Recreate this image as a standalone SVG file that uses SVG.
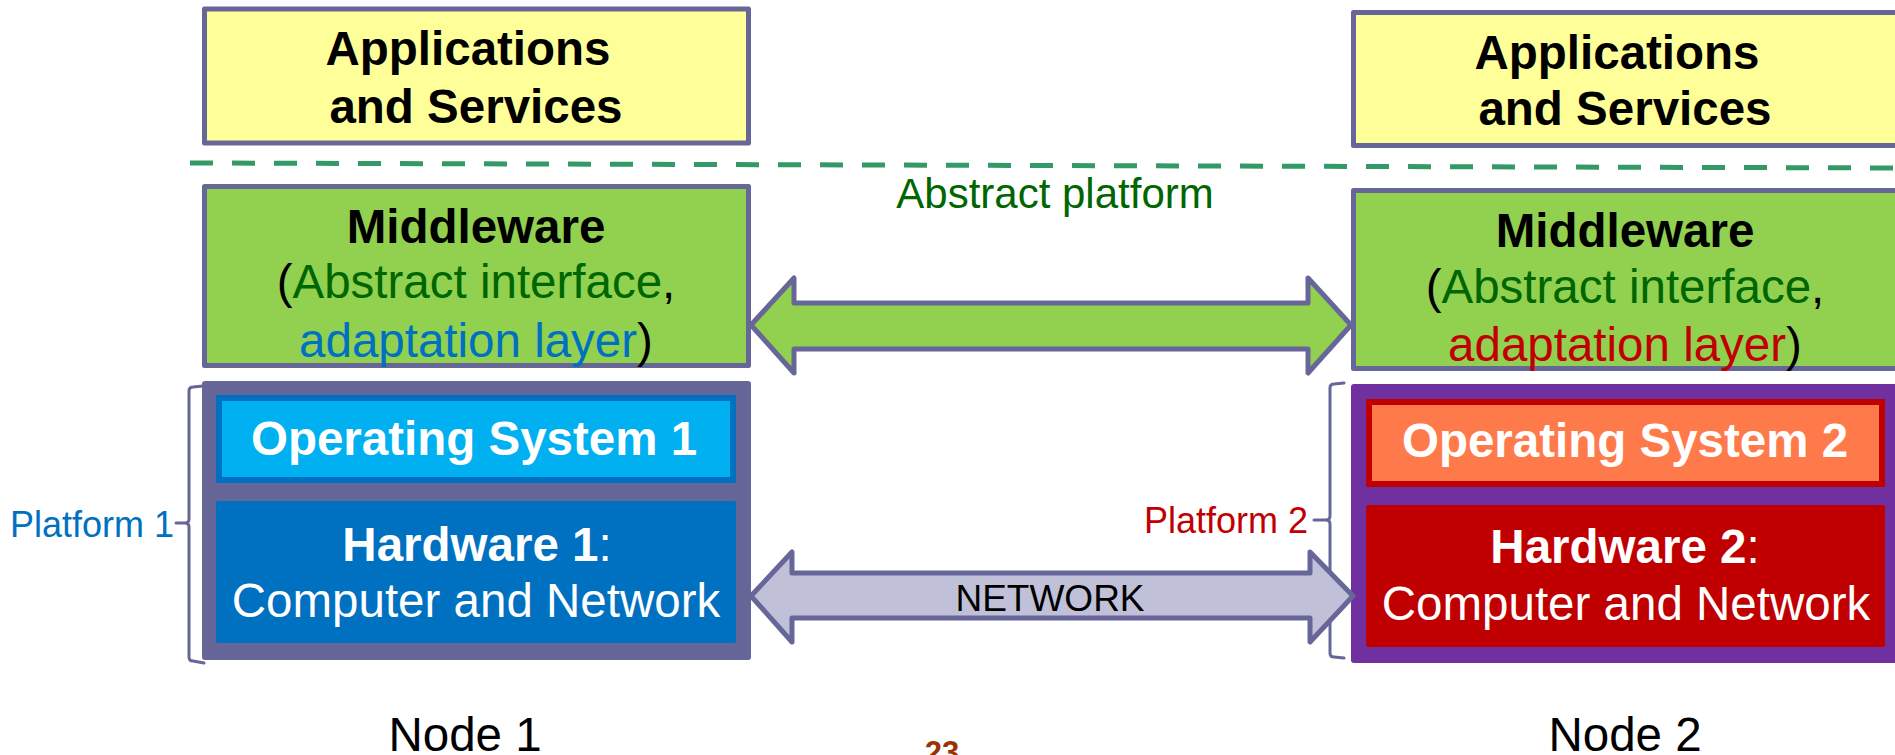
<svg xmlns="http://www.w3.org/2000/svg" width="1895" height="755" viewBox="0 0 1895 755">
  <style>
    text { font-family: "Liberation Sans", Arial, sans-serif; }
    .b { font-weight: bold; }
    .t48 { font-size: 47.5px; }
    .mid { text-anchor: middle; }
    .box { stroke: #666699; stroke-width: 5; stroke-linejoin: round; }
    .app { fill: #FFFF99; }
    .mw { fill: #92D050; }
    .brace { fill: none; stroke: #666699; stroke-width: 3; stroke-linecap: round; stroke-linejoin: round; }
    .arrow { stroke: #666699; stroke-width: 5; stroke-linejoin: round; }
    .w { fill: #FFFFFF; }
  </style>

  <rect width="1895" height="755" fill="#FFFFFF"/>

  <!-- abstract platform boundary -->
  <g id="abstract-platform">
    <line x1="190" y1="163" x2="1895" y2="168" stroke="#339966" stroke-width="5" stroke-dasharray="23 19"/>
    <text x="1055" y="208" class="mid" font-size="42" fill="#006600">Abstract platform</text>
  </g>

  <!-- node 1 -->
  <g id="apps1">
    <rect x="204.5" y="9" width="544" height="134" class="box app"/>
    <text x="468" y="65" class="b t48 mid">Applications</text>
    <text x="476" y="123" class="b t48 mid">and Services</text>
  </g>
  <g id="middleware1">
    <rect x="204.5" y="186.5" width="544" height="179" class="box mw"/>
    <text x="476" y="243" class="b t48 mid">Middleware</text>
    <text x="476" y="298" class="t48 mid">(<tspan fill="#006600">Abstract interface</tspan>,</text>
    <text x="476" y="357" class="t48 mid"><tspan fill="#0070C0">adaptation layer</tspan>)</text>
  </g>
  <g id="platform1">
    <rect x="202" y="381" width="549" height="279" rx="3" fill="#666699"/>
    <g id="os1">
      <rect x="219" y="398" width="514" height="82" fill="#00B0F0" stroke="#0070C0" stroke-width="6"/>
      <text x="474" y="455" class="b t48 mid w">Operating System 1</text>
    </g>
    <g id="hw1">
      <rect x="216" y="501" width="520" height="142" rx="2" fill="#0070C0"/>
      <text x="477" y="561" class="t48 mid w"><tspan class="b">Hardware 1</tspan>:</text>
      <text x="476" y="617" class="t48 mid w">Computer and Network</text>
    </g>
  </g>
  <g id="platform1-label">
    <path class="brace" d="M203,386 L193,387 Q189,387 189,391 L189,519 Q189,523 185,523 L176,523 M185,523 Q189,523 189,527 L189,657 Q189,661 193,661 L204,663"/>
    <text x="10" y="537" font-size="36" fill="#0070C0">Platform 1</text>
  </g>
  <g id="node1-label">
    <text x="465" y="751" class="t48 mid">Node 1</text>
  </g>

  <!-- node 2 -->
  <g id="apps2">
    <rect x="1353.5" y="12.5" width="560" height="133" class="box app"/>
    <text x="1617" y="69" class="b t48 mid">Applications</text>
    <text x="1625" y="125" class="b t48 mid">and Services</text>
  </g>
  <g id="middleware2">
    <rect x="1353.5" y="190.5" width="560" height="178" class="box mw"/>
    <text x="1625" y="247" class="b t48 mid">Middleware</text>
    <text x="1625" y="303" class="t48 mid">(<tspan fill="#006600">Abstract interface</tspan>,</text>
    <text x="1625" y="361" class="t48 mid"><tspan fill="#C00000">adaptation layer</tspan>)</text>
  </g>
  <g id="platform2">
    <rect x="1351" y="384" width="560" height="279" rx="3" fill="#7030A0"/>
    <g id="os2">
      <rect x="1369" y="402" width="513" height="82" fill="#FF7A4A" stroke="#C00000" stroke-width="6"/>
      <text x="1625" y="457" class="b t48 mid w">Operating System 2</text>
    </g>
    <g id="hw2">
      <rect x="1366" y="505" width="519" height="142" rx="2" fill="#C00000"/>
      <text x="1625" y="563" class="t48 mid w"><tspan class="b">Hardware 2</tspan>:</text>
      <text x="1626" y="620" class="t48 mid w">Computer and Network</text>
    </g>
  </g>
  <g id="platform2-label">
    <path class="brace" d="M1344,383 L1334,384 Q1330,384 1330,388 L1330,516 Q1330,520 1326,520 L1314,520 M1326,520 Q1330,520 1330,524 L1330,653 Q1330,657 1334,657 L1344,658"/>
    <text x="1308" y="533" font-size="36" fill="#C00000" text-anchor="end">Platform 2</text>
  </g>
  <g id="node2-label">
    <text x="1625" y="751" class="t48 mid">Node 2</text>
  </g>

  <!-- connectors -->
  <g id="connectors">
    <polygon class="arrow" fill="#92D050" points="751,325 794,278 794,303 1308,303 1308,278 1351,325 1308,373 1308,349 794,349 794,373"/>
    <polygon class="arrow" fill="#C0C1D8" points="751,596 792,552 792,573 1310,573 1310,552 1353,596 1310,642 1310,618 792,618 792,642"/>
    <text x="1050" y="611" class="mid" font-size="37">NETWORK</text>
  </g>

  <!-- page number, partly below the bottom edge -->
  <text x="942" y="763" class="b mid" font-size="31" fill="#993300">23</text>
</svg>
